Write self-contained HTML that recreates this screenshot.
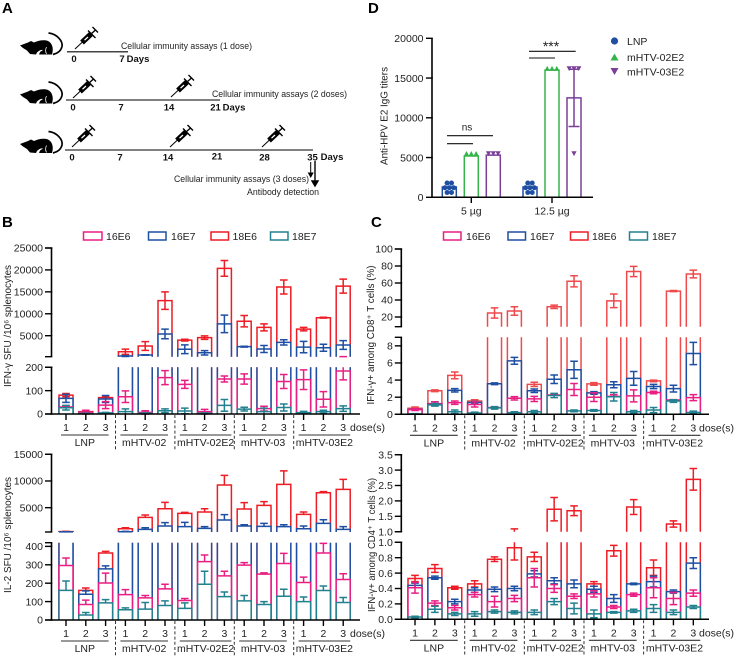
<!DOCTYPE html>
<html lang="en">
<head>
<meta charset="utf-8">
<title>HPV mRNA vaccine immunogenicity figure</title>
<style>
html,body{margin:0;padding:0;background:#fff}
svg{display:block;filter:blur(0.3px)}
text{font-family:"Liberation Sans",Arial,sans-serif;fill:#222}
.letter{font-size:15px;font-weight:bold;fill:#000}
.note{font-size:9.5px}
.day{font-size:9.5px;font-weight:bold;fill:#111}
</style>
</head>
<body>
<svg id="fig" xmlns="http://www.w3.org/2000/svg" width="738" height="659" viewBox="0 0 738 659">
<defs>
<g id="mouse-shape">
<path fill="#000" d="M20 45.500 L28 42.500 L31 41 L34 42.500 C38 40.500 44 39.500 48 41 C52 43 54 48 52 54.500 L39 54.500 L40 52 L43 50 C41 49.500 39 50.500 37 52.500 L36 54.500 L30 54 L27 50.500 L23 48 Z"/>
<path fill="none" stroke="#fff" stroke-width="0.8" d="M46.500 47 C45 50 45.500 52 46.500 54"/>
<path fill="none" stroke="#000" stroke-width="1.7" d="M48.500 33 C57 34 63 41 62 46.500 C61 51 57 53.500 53 54.500"/>
</g>
<g id="syringe-shape">
<path stroke="#000" stroke-width="1" fill="none" d="M0 0 L8 -7.500"/>
<path stroke="#000" stroke-width="5.400" fill="none" d="M7 -6.500 L16 -15"/>
<path stroke="#fff" stroke-width="1.300" fill="none" d="M9.500 -8.800 L13 -12"/>
<path stroke="#000" stroke-width="1.400" fill="none" d="M13 -18.500 L20.500 -11 M16 -15 L20.500 -19 M17.500 -22 L23 -16.500"/>
</g>
</defs>

<g>
<text class="letter" x="2" y="13">A</text>
<use href="#mouse-shape" y="0"/>
<use href="#mouse-shape" y="49"/>
<use href="#mouse-shape" y="98.500"/>
<line x1="67" x2="128" y1="51.700" y2="51.700" stroke="#444" stroke-width="1.500"/>
<line x1="66" x2="220" y1="100" y2="100" stroke="#000" stroke-width="1.100"/>
<line x1="65" x2="313" y1="150" y2="150" stroke="#000" stroke-width="1.100"/>
<use href="#syringe-shape" x="75" y="49"/>
<use href="#syringe-shape" x="73" y="98"/>
<use href="#syringe-shape" x="171" y="97"/>
<use href="#syringe-shape" x="72" y="147"/>
<use href="#syringe-shape" x="170" y="147"/>
<use href="#syringe-shape" x="262" y="147"/>
<text class="note" x="121" y="49" textLength="131" lengthAdjust="spacingAndGlyphs">Cellular immunity assays (1 dose)</text>
<text class="note" x="212" y="97" textLength="135" lengthAdjust="spacingAndGlyphs">Cellular immunity assays (2 doses)</text>
<text class="note" x="174" y="182" textLength="135" lengthAdjust="spacingAndGlyphs">Cellular immunity assays (3 doses)</text>
<text class="note" x="247" y="195" textLength="72" lengthAdjust="spacingAndGlyphs">Antibody detection</text>
<g class="day-labels" text-anchor="middle">
<text class="day" x="74" y="62">0</text>
<text class="day" x="122" y="62">7</text>
<text class="day" x="138" y="62">Days</text>
<text class="day" x="73" y="110.500">0</text>
<text class="day" x="121" y="110.500">7</text>
<text class="day" x="169" y="110.500">14</text>
<text class="day" x="215.500" y="110.500">21</text>
<text class="day" x="234" y="110.500">Days</text>
<text class="day" x="72" y="160.500">0</text>
<text class="day" x="120" y="160.500">7</text>
<text class="day" x="168" y="160.500">14</text>
<text class="day" x="217" y="159.500">21</text>
<text class="day" x="264.500" y="160.500">28</text>
<text class="day" x="312.500" y="160.500">35</text>
<text class="day" x="332" y="160">Days</text>
</g>
<path d="M310.700 162 V174 M308.500 173 L310.700 177 L312.900 173 Z" stroke="#000" stroke-width="1" fill="#000"/>
<path d="M315 161 V182 M312 181 L315 186 L318 181 Z" stroke="#000" stroke-width="1.400" fill="#000"/>
</g>

<text class="letter" x="368" y="13">D</text>
<text class="letter" x="2" y="227">B</text>
<text class="letter" x="371" y="227">C</text>

<g>
<circle cx="614.500" cy="41" r="3.600" fill="#1f4fa2"/>
<text x="627" y="45" font-size="10.500">LNP</text>
<path d="M610.500 60.500 L614.500 53.500 L618.500 60.500 Z" fill="#35b44a"/>
<text x="627" y="61" font-size="10.500">mHTV-02E2</text>
<path d="M610.500 68 L618.500 68 L614.500 75 Z" fill="#7b3f98"/>
<text x="627" y="75.500" font-size="10.500">mHTV-03E2</text>
</g>
</svg>

<script>
// Shared labels
const doses = ["1", "2", "3"];
const groupNames = ["LNP", "mHTV-02", "mHTV-02E2", "mHTV-03", "mHTV-03E2"];
const seriesNames = ["16E6", "16E7", "18E6", "18E7"];

// Panel B, IFN-gamma SFU
const ifnSfu16E6 = [30,8,38,74,7,156,127,10,150,150,23,139,147,63,184];
const ifnSfu16E6Err = [5,8,15,25,7,30,17,10,13,22,10,30,42,33,38];
const ifnSfu16E7 = [67,5,64,360,600,5400,1900,1100,7700,2500,1960,3480,2400,2260,2870];
const ifnSfu16E7Err = [17,3,15,100,50,1100,1000,500,2000,100,800,600,1300,800,1000];
const ifnSfu18E6 = [81,10,70,1350,2650,13000,4000,4550,20350,8300,6900,16100,6500,9100,16300];
const ifnSfu18E6Err = [7,3,5,600,1000,2000,200,400,1800,1300,800,1600,400,100,1600];
const ifnSfu18E7 = [27,2,5,10,3,14,13,3,37,21,10,28,6,10,23];
const ifnSfu18E7Err = [10,1,2,12,2,8,12,2,25,8,15,15,5,6,12];
const ifnSfuLowerTicks = [0,100,200];
const ifnSfuUpperTicks = [5000,10000,15000,20000,25000];

// Panel B, IL-2 SFU (upper error arm only)
const il2Sfu16E6 = [296,84,201,138,120,169,106,317,240,298,249,307,204,364,220];
const il2Sfu16E6Err = [41,24,54,27,13,25,11,36,25,14,7,55,29,52,31];
const il2Sfu16E7 = [470,140,278,500,940,1560,1440,1125,2690,1560,1500,1440,1060,2060,940];
const il2Sfu16E7Err = [30,18,16,60,310,630,810,315,1000,250,560,370,500,690,500];
const il2Sfu18E6 = [520,161,364,1060,3190,4810,3940,4190,9250,4750,5440,9375,3750,7800,8440];
const il2Sfu18E6Err = [40,13,9,190,430,1190,180,620,1810,1190,685,2525,440,200,1860];
const il2Sfu18E7 = [161,27,93,56,59,79,63,194,127,104,84,129,100,160,95];
const il2Sfu18E7Err = [51,14,18,10,36,25,30,71,25,29,16,38,25,25,27];
const il2SfuLowerTicks = [0,100,200,300,400];
const il2SfuUpperTicks = [5000,10000,15000];

// Panel C, CD8+
const cd816E6 = [0.55,1.2,1.36,1.15,0.78,1.87,1.8,2.25,2.9,2.0,2.1,2.15,2.55,1.67,1.95];
const cd816E6Err = [0.1,0.25,0.2,0.3,0.05,0.2,0.3,0.05,0.7,0.5,0.2,0.7,0.15,0.05,0.35];
const cd816E7 = [0.58,1.25,2.8,1.4,3.57,6.25,2.75,4.1,5.2,2.5,3.45,4.2,3.25,3.0,7.1];
const cd816E7Err = [0.05,0.2,0.2,0.1,0.1,0.4,0.2,0.5,1.0,0.15,0.35,0.8,0.25,0.4,1.3];
const cd818E6 = [0.7,2.75,4.55,1.55,24.7,27,3.5,32,62,3.55,39,73.5,3.9,50.5,70.6];
const cd818E6Err = [0.15,0.1,0.4,0.15,6,5,0.25,2,6.5,0.15,8,6,0.1,0.7,4.5];
const cd818E7 = [0.05,1.1,0.3,0.15,0.75,0.2,0.3,2.2,0.4,0.45,2.05,0.3,0.5,1.55,0.22];
const cd818E7Err = [0.03,0.15,0.2,0.1,0.15,0.1,0.15,0.25,0.1,0.1,0.5,0.15,0.3,0.15,0.15];
const cd8LowerTicks = [0,2,4,6,8];
const cd8UpperTicks = [20,40,60,80,100];

// Panel C, CD4+
const cd416E6 = [0.41,0.21,0.15,0.32,0.23,0.27,0.54,0.4,0.3,0.33,0.16,0.32,0.41,0.27,0.34];
const cd416E6Err = [0.07,0.03,0.03,0.03,0.07,0.04,0.12,0.05,0.03,0.04,0.02,0.02,0.13,0.08,0.04];
const cd416E7 = [0.44,0.54,0.23,0.38,0.39,0.4,0.59,0.5,0.46,0.39,0.27,0.46,0.49,0.36,0.73];
const cd416E7Err = [0.03,0.02,0.03,0.03,0.03,0.03,0.04,0.04,0.05,0.04,0.05,0.01,0.07,0.02,0.07];
const cd418E6 = [0.53,0.66,0.41,0.46,0.78,0.93,0.81,1.73,1.68,0.46,0.89,1.8,0.67,1.25,2.7];
const cd418E6Err = [0.04,0.05,0.02,0.04,0.03,0.16,0.06,0.38,0.16,0.03,0.07,0.24,0.1,0.1,0.35];
const cd418E7 = [0.03,0.13,0.07,0.07,0.1,0.09,0.09,0.23,0.14,0.07,0.09,0.11,0.14,0.09,0.16];
const cd418E7Err = [0.01,0.04,0.02,0.03,0.02,0.02,0.03,0.04,0.07,0.05,0.01,0.02,0.05,0.03,0.02];
const cd4LowerTicks = ["0.0","0.2","0.4","0.6","0.8","1.0"];
const cd4UpperTicks = ["1.0","1.5","2.0","2.5","3.0","3.5"];

// Panel D, titers
const titerDoses = ["5 µg", "12.5 µg"];
const titerTicks = [0,5000,10000,15000,20000];
const titerLnp = [1300,1300];
const titerLnpErr = [0,0];
const titerLnpPoints = [[1800,1800,1200,1200,1200,600,600],[1800,1800,1200,1200,1200,600,600]];
const titer02E2 = [5200,16000];
const titer02E2Err = [0,0];
const titer02E2Points = [[5500,5500,5500],[16200,16200,16200]];
const titer03E2 = [5300,12500];
const titer03E2Err = [0,3600];
const titer03E2Points = [[5500,5500,5500],[16200,16200,16200,5500]];

const NS = "http://www.w3.org/2000/svg";
const svg = document.getElementById("fig");
const colors = {"16E6":"#e91e83","16E7":"#1f4fa2","18E6":"#ee1c25","18E7":"#22808f"};

function make(parent, tag, props, text) {
  const n = document.createElementNS(NS, tag);
  for (const k in props) n.setAttribute(k, props[k]);
  if (text !== undefined) n.textContent = text;
  parent.appendChild(n);
  return n;
}
function scale(seg, v) {
  return seg.y0 + (v - seg.v0) * (seg.y1 - seg.y0) / (seg.v1 - seg.v0);
}

function drawColumn(g, seg, xc, w, value, err, color, lowerArm, capHalf) {
  const lo = seg.v0, hi = seg.v1;
  if (value > lo) {
    const top = Math.min(value, hi);
    const xl = xc - w / 2, xr = xc + w / 2;
    const yb = scale(seg, lo), yt = scale(seg, top);
    const fill = make(g, "rect", {x:xl, y:yt, width:w, height:yb-yt, fill:"#fff"});
    
    
    const d = value <= hi
      ? `M${xl} ${yb}V${yt}H${xr}V${yb}`
      : `M${xl} ${yb}V${yt}M${xr} ${yt}V${yb}`;
    const outline = make(g, "path", {d:d, fill:"none", stroke:color, "stroke-width":1.5});
    
    
  }
  if (err > 0) {
    const up = value + err;
    const dn = lowerArm ? value - err : value;
    const a = Math.max(dn, lo), b = Math.min(up, hi);
    let d = "";
    if (b > a) d += `M${xc} ${scale(seg,a)}V${scale(seg,b)}`;
    if (up >= lo && up <= hi) d += `M${xc-capHalf} ${scale(seg,up)}H${xc+capHalf}`;
    if (lowerArm && dn >= lo && dn <= hi) d += `M${xc-capHalf} ${scale(seg,dn)}H${xc+capHalf}`;
    if (d) {
      const bar = make(g, "path", {d:d, fill:"none", stroke:color, "stroke-width":1.5});
      
      
    }
  }
}

function drawYAxis(parent, axisX, seg, ticks, fs) {
  const axis = make(parent, "line", {x1:axisX, x2:axisX, y1:seg.y0, y2:seg.y1, stroke:"#000", "stroke-width":1.6});
  
  
  const ends = [seg.v0, seg.v1];
  ends.forEach(function (v) {
    const y = scale(seg, v);
    const t = make(parent, "line", {x1:axisX-6.5, x2:axisX+0.8, y1:y, y2:y, stroke:"#000", "stroke-width":1.4});
    
    
  });
  ticks.forEach(function (v) {
    const y = scale(seg, +v);
    const t = make(parent, "line", {x1:axisX-6.5, x2:axisX+0.8, y1:y, y2:y, stroke:"#000", "stroke-width":1.4});
    
    
    const label = make(parent, "text", {x:axisX-8.5, y:y+3.7, "text-anchor":"end", "font-size":fs}, String(v));
    
    
  });
}

function drawLegend(parent, items, y) {
  items.forEach(function (it) {
    const box = make(parent, "rect", {x:it.bx, y:y-4, width:it.bw, height:8, fill:"#fff", stroke:colors[it.name], "stroke-width":1.5});
    
    
    const label = make(parent, "text", {x:it.tx, y:y+4, "font-size":10.5}, it.name);
    
    
  });
}

function drawStacked(cfg) {
  const root = make(svg, "g", {});
  
  
  const x = function (i) { return cfg.x0 + cfg.pitch * i; };
  const order = [2, 1, 0, 3]; // back to front
  [cfg.upper, cfg.lower].forEach(function (seg) {
    order.forEach(function (si) {
      const series = cfg.series[si];
      const g = make(root, "g", {});
      
      
      series.values.forEach(function (v, i) {
        drawColumn(g, seg, x(i), 14, v, series.errs[i], cfg.colorOverride && cfg.colorOverride[seriesNames[si]] || colors[seriesNames[si]], cfg.lowerArm, 3.8);
      });
    });
  });
  drawYAxis(root, cfg.axisX, cfg.lower, cfg.lowerTicks, 10.5);
  drawYAxis(root, cfg.axisX, cfg.upper, cfg.upperTicks, 10.5);
  const base = cfg.lower.y0;
  const xAxis = make(root, "line", {x1:cfg.axisX-0.8, x2:cfg.xEnd, y1:base, y2:base, stroke:"#000", "stroke-width":1.5});
  
  
  cfg.series[0].values.forEach(function (v, i) {
    const t = make(root, "line", {x1:x(i), x2:x(i), y1:base, y2:base+6, stroke:"#000", "stroke-width":1.4});
    
    
    const lab = make(root, "text", {x:x(i), y:base+17, "text-anchor":"middle", "font-size":10.5}, doses[i % 3]);
    
    
  });
  const doseWord = make(root, "text", {x:cfg.doseX, y:base+17, "font-size":10.5}, "dose(s)");
  
  
  groupNames.forEach(function (name, gi) {
    const wide = name.length > 7;
    const a = x(gi * 3) - 5, b = x(gi * 3 + 2) + (wide ? 7 : 3);
    const rule = make(root, "line", {x1:a, x2:b, y1:base+21, y2:base+21, stroke:"#333", "stroke-width":1.1});
    
    
    const lab = make(root, "text", {x:(a+b)/2, y:base+32, "text-anchor":"middle", "font-size":10.5}, name);
    
    
    if (gi > 0) {
      const dx = (x(gi*3 - 1) + x(gi*3)) / 2;
      const sep = make(root, "line", {x1:dx, x2:dx, y1:base+1, y2:base+37, stroke:"#333", "stroke-width":1, "stroke-dasharray":"3 2.2"});
      
      
    }
  });
  const title = make(root, "text", {transform:`translate(${cfg.titleX},${cfg.titleY}) rotate(-90)`, "text-anchor":"middle", "font-size":10, textLength:cfg.titleLen, lengthAdjust:"spacingAndGlyphs"}, cfg.title);
  
  
}

const legendB = [
  {name:"16E6", bx:83.5, bw:18.5, tx:106},
  {name:"16E7", bx:148.5, bw:17.5, tx:171},
  {name:"18E6", bx:211, bw:17.5, tx:232.5},
  {name:"18E7", bx:270.5, bw:17.5, tx:292}
];
const legendC = [
  {name:"16E6", bx:443.5, bw:17.5, tx:466},
  {name:"16E7", bx:508, bw:17.5, tx:530},
  {name:"18E6", bx:570.5, bw:17.5, tx:592},
  {name:"18E7", bx:629.5, bw:18, tx:652}
];
const legendBGroup = make(svg, "g", {});


drawLegend(legendBGroup, legendB, 236);
const legendCGroup = make(svg, "g", {});


drawLegend(legendCGroup, legendC, 236);

drawStacked({
  name:"ifn-sfu-chart", x0:66, pitch:19.8, axisX:51.5, xEnd:360, doseX:350,
  lower:{v0:0, v1:200, y0:414, y1:367.3}, upper:{v0:211, v1:25000, y0:356.7, y1:248},
  lowerTicks:ifnSfuLowerTicks, upperTicks:ifnSfuUpperTicks, lowerArm:true,
  series:[{values:ifnSfu16E6,errs:ifnSfu16E6Err},{values:ifnSfu16E7,errs:ifnSfu16E7Err},{values:ifnSfu18E6,errs:ifnSfu18E6Err},{values:ifnSfu18E7,errs:ifnSfu18E7Err}],
  title:"IFN-γ SFU /10⁶ splenocytes", titleX:11, titleY:326, titleLen:122
});
drawStacked({
  name:"il2-sfu-chart", x0:66, pitch:19.8, axisX:51.5, xEnd:360, doseX:350,
  lower:{v0:0, v1:420, y0:620, y1:542.7}, upper:{v0:444, v1:15000, y0:532, y1:454.3},
  lowerTicks:il2SfuLowerTicks, upperTicks:il2SfuUpperTicks, lowerArm:false,
  series:[{values:il2Sfu16E6,errs:il2Sfu16E6Err},{values:il2Sfu16E7,errs:il2Sfu16E7Err},{values:il2Sfu18E6,errs:il2Sfu18E6Err},{values:il2Sfu18E7,errs:il2Sfu18E7Err}],
  title:"IL-2 SFU /10⁶ splenocytes", titleX:11, titleY:535, titleLen:116
});
drawStacked({
  name:"cd8-ifn-chart", x0:415, pitch:19.88, axisX:401.3, xEnd:709, doseX:699,
  colorOverride:{"18E6":"#ee4a4c"},
  lower:{v0:0, v1:9, y0:414.3, y1:337.3}, upper:{v0:8.6, v1:100, y0:326.7, y1:249},
  lowerTicks:cd8LowerTicks, upperTicks:cd8UpperTicks, lowerArm:true,
  series:[{values:cd816E6,errs:cd816E6Err},{values:cd816E7,errs:cd816E7Err},{values:cd818E6,errs:cd818E6Err},{values:cd818E7,errs:cd818E7Err}],
  title:"IFN-γ+ among CD8⁺ T cells (%)", titleX:374, titleY:335, titleLen:139
});
drawStacked({
  name:"cd4-ifn-chart", x0:415, pitch:19.88, axisX:401.3, xEnd:709, doseX:699,
  lower:{v0:0, v1:1, y0:619.3, y1:542.3}, upper:{v0:1, v1:3.5, y0:531.7, y1:454.7},
  lowerTicks:cd4LowerTicks, upperTicks:cd4UpperTicks, lowerArm:true,
  series:[{values:cd416E6,errs:cd416E6Err},{values:cd416E7,errs:cd416E7Err},{values:cd418E6,errs:cd418E6Err},{values:cd418E7,errs:cd418E7Err}],
  title:"IFN-γ+ among CD4⁺ T cells (%)", titleX:375, titleY:545, titleLen:134
});

// Panel D
(function () {
  const root = make(svg, "g", {});
  
  
  const seg = {v0:0, v1:20000, y0:197.3, y1:38.3};
  const groupCenter = function (g) { return g === 0 ? 471.3 : 552; };
  const offsets = [-22, 0, 22];
  const groups = [
    {name:"lnp", color:"#1f4fa2", bars:titerLnp, errs:titerLnpErr, pts:titerLnpPoints, shape:"circle"},
    {name:"mhtv-02e2", color:"#35b44a", bars:titer02E2, errs:titer02E2Err, pts:titer02E2Points, shape:"up"},
    {name:"mhtv-03e2", color:"#7b3f98", bars:titer03E2, errs:titer03E2Err, pts:titer03E2Points, shape:"down"}
  ];
  groups.forEach(function (s, si) {
    const g = make(root, "g", {});
    
    
    s.bars.forEach(function (v, i) {
      const xc = groupCenter(i) + offsets[si];
      drawColumn(g, seg, xc, 14, v, s.errs[i], s.color, true, 5.5);
      const counts = {};
      s.pts[i].forEach(function (p) { counts[p] = (counts[p] || 0) + 1; });
      const seen = {};
      s.pts[i].forEach(function (p) {
        seen[p] = (seen[p] || 0) + 1;
        const px = xc + (seen[p] - (counts[p] + 1) / 2) * (s.shape === "circle" ? 4.4 : 4.8);
        const py = scale(seg, p);
        let mark;
        if (s.shape === "circle") {
          mark = make(g, "circle", {cx:px, cy:py, r:2.5, fill:s.color});
        } else if (s.shape === "up") {
          mark = make(g, "path", {d:`M${px-2.6} ${py+2.3}L${px} ${py-2.6}L${px+2.6} ${py+2.3}Z`, fill:s.color});
        } else {
          mark = make(g, "path", {d:`M${px-2.6} ${py-2.3}L${px} ${py+2.6}L${px+2.6} ${py-2.3}Z`, fill:s.color});
        }
        
        
      });
    });
  });
  const axis = make(root, "line", {x1:432, x2:432, y1:seg.y0, y2:seg.y1, stroke:"#000", "stroke-width":1.6});
  
  
  titerTicks.forEach(function (v) {
    const y = scale(seg, v);
    const t = make(root, "line", {x1:426, x2:432.8, y1:y, y2:y, stroke:"#000", "stroke-width":1.4});
    
    
    const lab = make(root, "text", {x:423.5, y:y+3.7, "text-anchor":"end", "font-size":10.5}, String(v));
    
    
  });
  const xAxis = make(root, "line", {x1:431.2, x2:593, y1:197.3, y2:197.3, stroke:"#000", "stroke-width":1.5});
  
  
  titerDoses.forEach(function (name, i) {
    const xc = groupCenter(i);
    const t = make(root, "line", {x1:xc, x2:xc, y1:197.3, y2:203, stroke:"#000", "stroke-width":1.4});
    
    
    const lab = make(root, "text", {x:xc, y:214.5, "text-anchor":"middle", "font-size":10.5}, name);
    
    
  });
  const title = make(root, "text", {transform:"translate(387.5,116) rotate(-90)", "text-anchor":"middle", "font-size":10, textLength:98, lengthAdjust:"spacingAndGlyphs"}, "Anti-HPV E2 IgG titers");
  
  

  const ruleA = make(root, "path", {d:"M447 135.7H493M447 143.700H473", stroke:"#111", "stroke-width":1.1, fill:"none"});
  
  
  const ruleB = make(root, "path", {d:"M529 51.3H575.700M529 58H555", stroke:"#111", "stroke-width":1.1, fill:"none"});
  
  
  const ns = make(root, "text", {x:467, y:130.5, "text-anchor":"middle", "font-size":10}, "ns");
  
  
  const stars = make(root, "text", {x:551, y:51, "text-anchor":"middle", "font-size":14}, "***");
  
  
})();
</script>
</body>
</html>
